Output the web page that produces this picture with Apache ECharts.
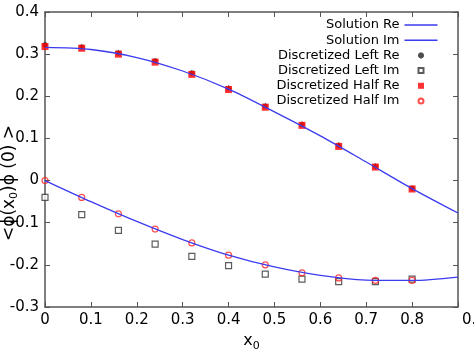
<!DOCTYPE html>
<html><head><meta charset="utf-8">
<script src="https://cdn.jsdelivr.net/npm/echarts@6/dist/echarts.min.js"></script>
<style>html,body{margin:0;padding:0;background:#fff}#c{width:474px;height:355px}</style>
</head><body><div id="c"></div>
<script>
const xPts = [0, 0.08, 0.16, 0.24, 0.32, 0.40, 0.48, 0.56, 0.64, 0.72, 0.80];
const halfRe = [0.318, 0.314, 0.300, 0.281, 0.252, 0.216, 0.174, 0.131, 0.081, 0.032, -0.020];
const leftRe = [0.322, 0.317, 0.303, 0.284, 0.255, 0.219, 0.177, 0.133, 0.084, 0.034, -0.018];
const halfIm = [0, -0.040, -0.079, -0.115, -0.148, -0.177, -0.200, -0.219, -0.231, -0.237, -0.237];
const leftIm = [-0.040, -0.081, -0.118, -0.151, -0.180, -0.202, -0.222, -0.234, -0.240, -0.240, -0.234];
const solX = [0, 0.1, 0.2, 0.3, 0.4, 0.5, 0.6, 0.7, 0.8, 0.9];
const solRe = [0.316, 0.311, 0.292, 0.260, 0.217, 0.163, 0.106, 0.044, -0.019, -0.077];
const solIm = [0, -0.050, -0.097, -0.140, -0.177, -0.205, -0.225, -0.236, -0.237, -0.229];
const seriesNames = ['Solution Re', 'Solution Im', 'Discretized Left Re', 'Discretized Left Im', 'Discretized Half Re', 'Discretized Half Im'];

const zip = (xs, ys) => xs.map((x, i) => [x, ys[i]]);
const FONT = 'DejaVu Sans';
const AX = '#555';
const BLUE = '#3b3bef';
const STAR = 'path://M0,5 L10,5 M5,0 L5,10 M1.5,1.5 L8.5,8.5 M8.5,1.5 L1.5,8.5';
const BOX = 'M0,0 M33,10 ';
const legendIcons = [
  'path://' + BOX + 'M0,4.25 L33,4.25 L33,5.75 L0,5.75 Z',
  'path://' + BOX + 'M0,4.25 L33,4.25 L33,5.75 L0,5.75 Z',
  'path://' + BOX + 'M13.5,5 L19.5,5 M16.5,2 L16.5,8 M14.4,2.9 L18.6,7.1 M18.6,2.9 L14.4,7.1',
  'path://' + BOX + 'M14,2.5 L19,2.5 L19,7.5 L14,7.5 Z',
  'path://' + BOX + 'M13.5,2 L19.5,2 L19.5,8 L13.5,8 Z',
  'path://' + BOX + 'M14,5 A2.5,2.5 0 1 1 19,5 A2.5,2.5 0 1 1 14,5 Z'
];

const chart = echarts.init(document.getElementById('c'), null, {renderer: 'canvas'});
const axisCommon = {
  axisLine: {show: true, onZero: false, lineStyle: {color: AX, width: 1.5}},
  axisTick: {show: true, inside: true, length: 5, lineStyle: {color: AX, width: 1}},
  splitLine: {show: false}
};
chart.setOption({
  animation: false,
  backgroundColor: '#fff',
  grid: {left: 45, right: 16, top: 12, bottom: 48, show: false, containLabel: false, outerBoundsMode: 'none'},
  xAxis: [
    Object.assign({type: 'value', min: 0, max: 0.9, interval: 0.1, position: 'bottom',
      axisLabel: {fontFamily: FONT, fontSize: 15, color: '#000', margin: 6, hideOverlap: false,
        formatter: v => (Math.abs(v - 0.9) < 1e-9 ? '{e|0.9}' : String(Math.round(v * 10) / 10)),
        rich: {e: {fontFamily: FONT, fontSize: 15, color: '#000', padding: [0, 0, 0, 32]}}},
      name: '{a|x}{s|0}', nameLocation: 'middle', nameGap: 23,
      nameTextStyle: {rich: {a: {fontFamily: FONT, fontSize: 16, color: '#000'}, s: {fontFamily: FONT, fontSize: 11, color: '#000', padding: [10, 0, 0, 0]}}}
    }, axisCommon),
    Object.assign({type: 'value', min: 0, max: 0.9, interval: 0.1, position: 'top', axisLabel: {show: false}}, axisCommon)
  ],
  yAxis: [
    Object.assign({type: 'value', min: -0.3, max: 0.4, interval: 0.1, position: 'left',
      axisLabel: {fontFamily: FONT, fontSize: 15, color: '#000', margin: 6}}, axisCommon),
    Object.assign({type: 'value', min: -0.3, max: 0.4, interval: 0.1, position: 'right', axisLabel: {show: false}}, axisCommon)
  ],
  legend: {
    orient: 'vertical', align: 'right', right: 29, top: 12.5,
    itemWidth: 33, itemHeight: 10, itemGap: 0.2, symbolKeepAspect: true,
    textStyle: {fontFamily: FONT, fontSize: 13, color: '#000', lineHeight: 15},
    data: seriesNames.map((n, i) => ({name: n, icon: legendIcons[i]}))
  },
  graphic: [{
    type: 'text', x: 10, y: 183, rotation: Math.PI / 2,
    style: {
      text: '{a|<ϕ(x}{s|0}{a|)ϕ (0) >}',
      align: 'center', verticalAlign: 'middle',
      rich: {a: {fontFamily: FONT, fontSize: 17, fill: '#000'}, s: {fontFamily: FONT, fontSize: 11, fill: '#000', padding: [8, 0, 0, 0]}}
    }
  }],
  series: [
    {name: seriesNames[0], type: 'line', data: zip(solX, solRe), smooth: 0.3, symbol: 'none',
      lineStyle: {color: BLUE, width: 1.3}, itemStyle: {color: BLUE}},
    {name: seriesNames[1], type: 'line', data: zip(solX, solIm), smooth: 0.3, symbol: 'none',
      lineStyle: {color: BLUE, width: 1.3}, itemStyle: {color: BLUE}},
    {name: seriesNames[2], type: 'scatter', data: zip(xPts, leftRe), symbol: STAR, symbolSize: 6,
      itemStyle: {color: 'none', borderColor: '#222', borderWidth: 1.2}},
    {name: seriesNames[3], type: 'scatter', data: zip(xPts, leftIm), symbol: 'rect', symbolSize: 6,
      itemStyle: {color: '#fff', borderColor: '#333', borderWidth: 1.2}},
    {name: seriesNames[4], type: 'scatter', data: zip(xPts, halfRe), symbol: 'rect', symbolSize: 7,
      itemStyle: {color: '#ff0000', borderWidth: 0}},
    {name: seriesNames[5], type: 'scatter', data: zip(xPts, halfIm), symbol: 'circle', symbolSize: 6,
      itemStyle: {color: 'none', borderColor: '#ff2020', borderWidth: 1.2}}
  ]
});
</script></body></html>
